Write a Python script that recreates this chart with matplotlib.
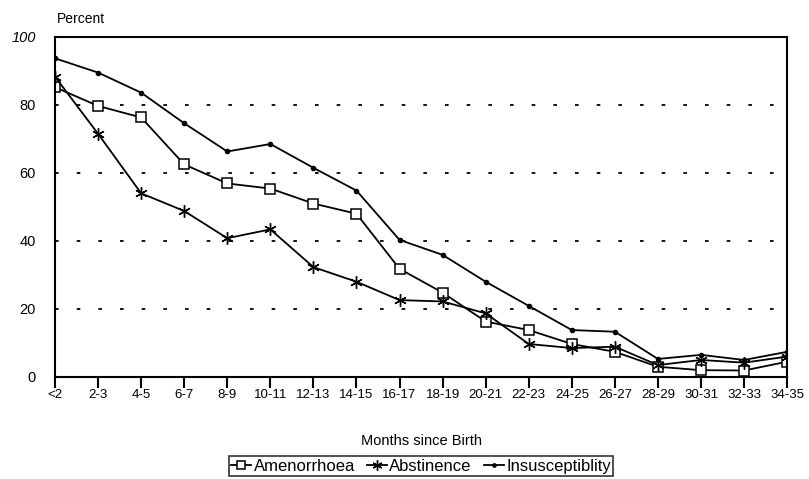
import matplotlib
matplotlib.use("Agg")
import matplotlib.pyplot as plt

months = ["<2", "2-3", "4-5", "6-7", "8-9", "10-11", "12-13", "14-15", "16-17",
          "18-19", "20-21", "22-23", "24-25", "26-27", "28-29", "30-31", "32-33", "34-35"]
amenorrhoea = [85.2, 79.7, 76.3, 62.5, 56.9, 55.4, 51, 48, 31.8, 24.8, 16.3, 13.8,
               9.7, 7.4, 3, 2, 1.9, 4.5]
abstinence = [88.3, 71.5, 54, 48.8, 40.8, 43.4, 32.3, 28, 22.6, 22.2, 18.7, 9.7,
              8.5, 8.9, 3.5, 5, 4.2, 6]
insusceptibility = [93.7, 89.5, 83.6, 74.6, 66.3, 68.5, 61.5, 54.8, 40.3, 35.9, 28,
                    20.9, 13.8, 13.3, 5.3, 6.5, 5, 7.4]

plt.rcParams['font.family'] = ['Liberation Sans', 'DejaVu Sans']

fig = plt.figure(figsize=(8.09, 4.79), dpi=100)
ax = fig.add_axes([0.068, 0.213, 0.905, 0.71])

x = list(range(len(months)))
ax.plot(x, amenorrhoea, '-', color='black', lw=1.3, marker='s', ms=7.5,
        mfc='white', mec='black', mew=1.1, label='Amenorrhoea')
ax.plot(x, abstinence, '-', color='black', lw=1.3, marker=(6, 2, 0), ms=9,
        mew=1.0, label='Abstinence')
ax.plot(x, insusceptibility, '-', color='black', lw=1.3, marker='o', ms=3,
        label='Insusceptiblity')

ax.set_xlim(0, len(months) - 1)
ax.set_ylim(0, 100)
ax.set_xticks(x)
ax.set_xticklabels(months, fontsize=9.5)
ax.set_yticks([0, 20, 40, 60, 80, 100])
ax.set_yticklabels(['0', '20', '40', '60', '80', '100'], fontsize=10.5)
ax.get_yticklabels()[-1].set_fontstyle('italic')
ax.tick_params(axis='y', length=0, pad=14)
ax.tick_params(axis='x', direction='out', length=8, width=1.5, pad=0.5)

for v in [20, 40, 60, 80]:
    ax.axhline(v, color='black', lw=1.3, ls=(0, (2, 10)), zorder=0)

for s in ax.spines.values():
    s.set_linewidth(1.5)

ax.set_xlabel('Months since Birth', fontsize=10.5, labelpad=24)
fig.text(0.07, 0.96, 'Percent', fontsize=10, ha='left', va='center')

leg = ax.legend(loc='upper center', bbox_to_anchor=(0.5, -0.233), ncol=3,
                fontsize=12, frameon=True, fancybox=False, handlelength=1.2,
                handletextpad=0.15, columnspacing=0.7, borderpad=0.15,
                borderaxespad=0, markerscale=0.8)
leg.get_frame().set_edgecolor('black')
leg.get_frame().set_linewidth(1.2)

plt.savefig('out.png', dpi=100)
